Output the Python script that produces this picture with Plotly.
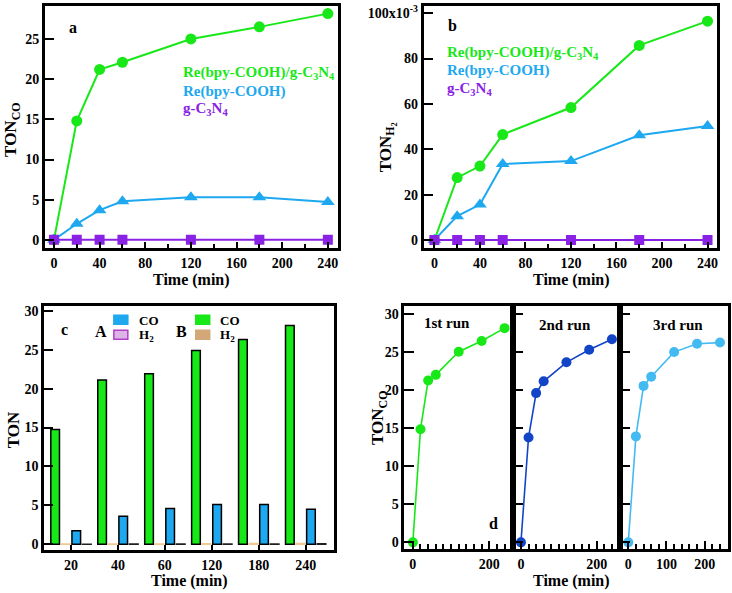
import plotly.graph_objects as go

W, H = 732, 593

# ---------------- data ----------------
time = [0, 20, 40, 60, 120, 180, 240]
# panel a: TON CO
co_composite = [0, 14.8, 21.2, 22.1, 25.0, 26.5, 28.15]
co_complex = [0, 2.0, 3.7, 4.8, 5.3, 5.3, 4.7]
co_gcn = [0, 0, 0, 0, 0, 0, 0]
# panel b: TON H2 (x10^-3)
h2_composite = [0, 27.5, 32.6, 46.5, 58.4, 85.8, 96.5]
h2_complex = [0, 10.5, 15.6, 33.5, 34.8, 46.2, 50.3]
h2_gcn = [0, 0, 0, 0, 0, 0, 0]
# panel c: bar chart
bar_cats = ["20", "40", "60", "120", "180", "240"]
bar_B_CO = [14.75, 21.1, 21.9, 24.9, 26.3, 28.1]
bar_B_H2 = [0.028, 0.033, 0.047, 0.058, 0.086, 0.097]
bar_A_CO = [1.75, 3.6, 4.6, 5.1, 5.1, 4.5]
bar_A_H2 = [0.011, 0.016, 0.034, 0.035, 0.046, 0.050]
# panel d: recycling runs
run1 = [0, 14.9, 21.3, 22.05, 25.1, 26.5, 28.2]
run2 = [0, 13.8, 19.65, 21.2, 23.7, 25.35, 26.75]
run3 = [0, 13.95, 20.6, 21.8, 25.05, 26.15, 26.3]

GREEN = "#18e818"
BLUE = "#1ea8f0"
PURPLE = "#8a22e6"
DBLUE = "#1244c8"
LBLUE = "#44baf2"
TAN = "#d2a878"
FONT = "Liberation Serif"


def px(x):
    return x / W


def py(y):
    return 1 - y / H


fig = go.Figure()

# ---- panel a ----
fig.add_trace(go.Scatter(x=time, y=co_composite, mode="lines+markers", xaxis="x", yaxis="y",
                         line=dict(color=GREEN, width=2), marker=dict(symbol="circle", size=11, color=GREEN)))
fig.add_trace(go.Scatter(x=time, y=co_complex, mode="lines+markers", xaxis="x", yaxis="y",
                         line=dict(color=BLUE, width=2), marker=dict(symbol="triangle-up", size=12, color=BLUE)))
fig.add_trace(go.Scatter(x=time, y=co_gcn, mode="lines+markers", xaxis="x", yaxis="y",
                         line=dict(color=PURPLE, width=2), marker=dict(symbol="square", size=10, color=PURPLE)))
# ---- panel b ----
fig.add_trace(go.Scatter(x=time, y=h2_composite, mode="lines+markers", xaxis="x2", yaxis="y2",
                         line=dict(color=GREEN, width=2), marker=dict(symbol="circle", size=11, color=GREEN)))
fig.add_trace(go.Scatter(x=time, y=h2_complex, mode="lines+markers", xaxis="x2", yaxis="y2",
                         line=dict(color=BLUE, width=2), marker=dict(symbol="triangle-up", size=12, color=BLUE)))
fig.add_trace(go.Scatter(x=time, y=h2_gcn, mode="lines+markers", xaxis="x2", yaxis="y2",
                         line=dict(color=PURPLE, width=2), marker=dict(symbol="square", size=10, color=PURPLE)))
# ---- panel c ----
idx = list(range(len(bar_cats)))
fig.add_trace(go.Bar(x=idx, y=bar_B_CO, xaxis="x3", yaxis="y3",
                     marker=dict(color=GREEN, line=dict(color="black", width=1.5))))
fig.add_trace(go.Bar(x=idx, y=bar_B_H2, xaxis="x3", yaxis="y3",
                     marker=dict(color=TAN, line=dict(color="#f0c890", width=1.5))))
fig.add_trace(go.Bar(x=idx, y=bar_A_CO, xaxis="x3", yaxis="y3",
                     marker=dict(color=BLUE, line=dict(color="black", width=1.5))))
fig.add_trace(go.Bar(x=idx, y=bar_A_H2, xaxis="x3", yaxis="y3",
                     marker=dict(color="#202020", line=dict(color="#202020", width=1.5))))
# ---- panel d ----
for run, col, xa, ya in [(run1, GREEN, "x4", "y4"), (run2, DBLUE, "x5", "y5"), (run3, LBLUE, "x6", "y6")]:
    fig.add_trace(go.Scatter(x=time, y=run, mode="lines+markers", xaxis=xa, yaxis=ya,
                             line=dict(color=col, width=1.6), marker=dict(symbol="circle", size=10, color=col)))

tickfont = dict(family=FONT, size=14, color="black", weight="bold")
frame = dict(showline=True, linecolor="black", linewidth=3, mirror=True, showgrid=False,
             zeroline=False, ticks="inside", tickcolor="black", tickwidth=2, tickfont=tickfont)

ya_dom = [py(247), py(3)]
yc_dom = [py(551.5), py(305.7)]

layout = dict(
    width=W, height=H, margin=dict(l=0, r=0, t=0, b=0),
    paper_bgcolor="white", plot_bgcolor="white", showlegend=False,
    barmode="group", bargap=0.1, bargroupgap=0.18,
    font=dict(family=FONT, color="black"),
    xaxis=dict(domain=[px(45), px(338)], range=[-7.9, 248.5], tickvals=[0, 40, 80, 120, 160, 200, 240],
               ticklen=6, minor=dict(dtick=20, ticks="inside", ticklen=4, tickcolor="black", tickwidth=1.5),
               anchor="y", **frame),
    yaxis=dict(domain=ya_dom, range=[-1.0, 29.1], tickvals=[0, 5, 10, 15, 20, 25], ticklen=9, anchor="x", **frame),
    xaxis2=dict(domain=[px(424.3), px(718.3)], range=[-9.4, 248.6], tickvals=[0, 40, 80, 120, 160, 200, 240],
                ticklen=6, minor=dict(dtick=20, ticks="inside", ticklen=4, tickcolor="black", tickwidth=1.5),
                anchor="y2", **frame),
    yaxis2=dict(domain=ya_dom, range=[-3.5, 103.2], tickvals=[0, 20, 40, 60, 80, 100],
                ticktext=["0", "20", "40", "60", "80", "100x10<sup>-3</sup>"], ticklen=9, anchor="x2", **frame),
    xaxis3=dict(domain=[px(44.3), px(334.3)], range=[-0.57, 5.6], tickvals=idx, ticktext=bar_cats,
                ticklen=5, anchor="y3", **frame),
    yaxis3=dict(domain=yc_dom, range=[-0.72, 30.6], tickvals=[0, 5, 10, 15, 20, 25, 30], ticklen=9,
                anchor="x3", **frame),
)
d_dom = [[px(405), px(513.3)], [px(513.3), px(620.7)], [px(620.7), px(729)]]
d_ticks = [[0, 200], [0, 200], [0, 100, 200]]
for i in range(3):
    n = 4 + i
    layout[f"xaxis{n}"] = dict(domain=d_dom[i], range=[-22, 261], tickvals=d_ticks[i], ticklen=8,
                               minor=dict(dtick=20, ticks="inside", ticklen=5, tickcolor="black", tickwidth=1.5),
                               anchor=f"y{n}", **frame)
    layout[f"yaxis{n}"] = dict(domain=[py(551), py(305.7)], range=[-0.92, 31.1], tickvals=[0, 5, 10, 15, 20, 25, 30],
                               ticklen=10, showticklabels=(i == 0), anchor=f"x{n}", **frame)

fig.update_layout(**layout)


def ann(text, x, y, size=15, color="black", xanchor="center", angle=0):
    fig.add_annotation(text=f"<b>{text}</b>", x=px(x), y=py(y), xref="paper", yref="paper",
                       showarrow=False, xanchor=xanchor, yanchor="middle", textangle=angle,
                       font=dict(family=FONT, size=size, color=color))


# panel a text
ann("a", 73, 25, size=16)
ann("Re(bpy-COOH)/g-C<sub>3</sub>N<sub>4</sub>", 181, 71, size=15, color=GREEN, xanchor="left")
ann("Re(bpy-COOH)", 181, 89, size=15, color=BLUE, xanchor="left")
ann("g-C<sub>3</sub>N<sub>4</sub>", 181, 107, size=15, color=PURPLE, xanchor="left")
ann("TON<sub>CO</sub>", 12, 128, size=17, angle=-90)
ann("Time (min)", 192, 279, size=16)
# panel b text
ann("b", 453, 23, size=16)
ann("Re(bpy-COOH)/g-C<sub>3</sub>N<sub>4</sub>", 446, 50, size=15, color=GREEN, xanchor="left")
ann("Re(bpy-COOH)", 446, 68, size=15, color=BLUE, xanchor="left")
ann("g-C<sub>3</sub>N<sub>4</sub>", 446, 87, size=15, color=PURPLE, xanchor="left")
ann("TON<sub>H<sub>2</sub></sub>", 388, 145, size=17, angle=-90)
ann("Time (min)", 572, 279, size=16)
# panel c text
ann("c", 65, 329, size=16)
ann("A", 101, 331, size=16)
ann("B", 182, 331, size=16)
ann("CO", 137, 320, size=13, xanchor="left")
ann("H<sub>2</sub>", 137, 335, size=13, xanchor="left")
ann("CO", 218, 320, size=13, xanchor="left")
ann("H<sub>2</sub>", 218, 335, size=13, xanchor="left")
for (x0, y0, x1, y1, fc, lc) in [(114, 315, 128, 324, BLUE, BLUE), (114, 330, 128, 339, "#dcb4e6", "#b040c8"),
                                  (196, 315, 210, 324, GREEN, GREEN), (196, 330, 210, 339, TAN, TAN)]:
    fig.add_shape(type="rect", xref="paper", yref="paper", x0=px(x0), x1=px(x1), y0=py(y1), y1=py(y0),
                  fillcolor=fc, line=dict(color=lc, width=1.5))
ann("TON", 13, 430, size=17, angle=-90)
ann("Time (min)", 190, 583, size=16)
# panel d text
ann("1st run", 448, 323, size=15)
ann("2nd run", 566, 325, size=15)
ann("3rd run", 679, 325, size=15)
ann("d", 494, 525, size=16)
ann("TON<sub>CO</sub>", 380, 418, size=17, angle=-90)
ann("Time (min)", 572, 583, size=16)

fig.write_html("out.html", config={"displayModeBar": False},
               post_script="document.body.style.margin='0';document.body.style.overflow='hidden';")
